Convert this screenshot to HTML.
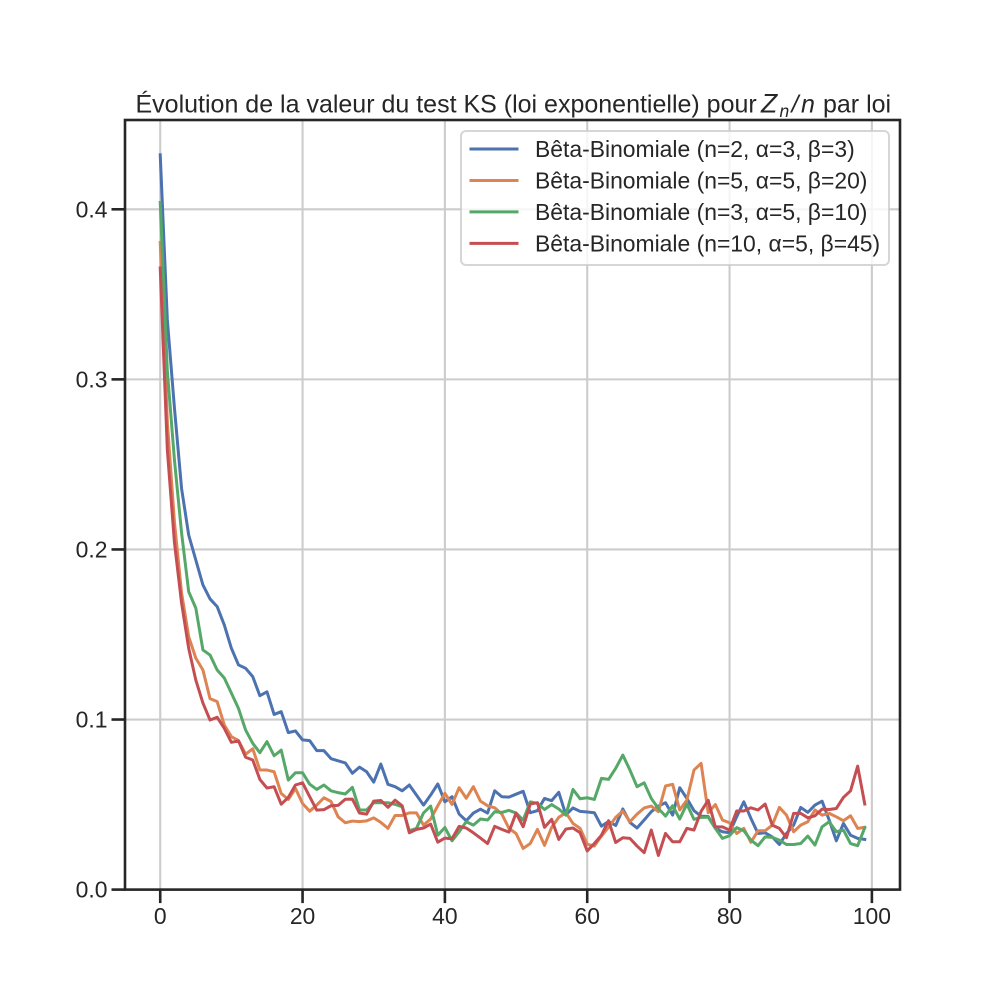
<!DOCTYPE html>
<html lang="fr">
<head>
<meta charset="utf-8">
<title>Évolution de la valeur du test KS</title>
<style>
html,body{margin:0;padding:0;background:#fff;width:1000px;height:1000px;overflow:hidden}
svg{display:block}
text{font-family:"Liberation Sans",Arial,sans-serif;fill:#262626}
</style>
</head>
<body>
<svg id="chart" width="1000" height="1000" viewBox="0 0 1000 1000" xmlns="http://www.w3.org/2000/svg">
  <rect x="0" y="0" width="1000" height="1000" fill="#fff"/>
  <g id="grid"></g>
  <g id="series"></g>
  <g id="frame"></g>
  <g id="xticks"></g>
  <g id="yticks"></g>
  <text x="135.5" y="112.5" font-size="25">Évolution de la valeur du test KS (loi exponentielle) pour <tspan x="761" font-style="italic" font-size="26.5">Z</tspan><tspan x="779.5" y="117" font-style="italic" font-size="17.5">n</tspan><tspan x="791.5" y="112.5" font-style="italic">/</tspan><tspan x="801" font-style="italic">n</tspan><tspan x="823">par loi</tspan></text>
  <g id="legend"></g>
</svg>
<script>
var xTicks = [0, 20, 40, 60, 80, 100];
var yTicks = [0.0, 0.1, 0.2, 0.3, 0.4];
var yTickLabels = ["0.0", "0.1", "0.2", "0.3", "0.4"];
var seriesLabels = [
  "Bêta-Binomiale (n=2, α=3, β=3)",
  "Bêta-Binomiale (n=5, α=5, β=20)",
  "Bêta-Binomiale (n=3, α=5, β=10)",
  "Bêta-Binomiale (n=10, α=5, β=45)"
];
var seriesColors = ["#4c72b0", "#dd8452", "#55a868", "#c44e52"];
var blueValues = [.432,.335,.283,.2358,.2085,.1938,.1791,.1709,.1664,.1556,.1419,.1321,.1301,.1252,.1140,.1163,.1030,.1046,.0923,.0933,.0880,.0876,.0817,.0817,.0770,.0757,.0745,.0684,.072,.0693,.0632,.0738,.0619,.0605,.0581,.0615,.0556,.0497,.0556,.0621,.0516,.0546,.0444,.0405,.045,.0473,.045,.0581,.0546,.0544,.0561,.0578,.0452,.0464,.0536,.0523,.0572,.044,.048,.046,.0456,.0452,.0373,.04,.0377,.0474,.0395,.0362,.0409,.0458,.0491,.0511,.0438,.0599,.0536,.0464,.0432,.043,.036,.034,.0334,.0428,.0516,.0419,.033,.0334,.031,.0265,.033,.0379,.0483,.0454,.0497,.052,.0409,.0287,.0389,.032,.0301,.0295];
var orangeValues = [.3805,.275,.216,.1744,.1487,.1361,.1291,.1123,.1105,.0968,.0899,.0876,.0796,.0828,.0703,.0703,.0693,.0565,.053,.0595,.0506,.0461,.0497,.054,.0518,.0428,.0393,.0403,.04,.0404,.0422,.0395,.036,.0436,.0436,.0451,.0451,.0379,.0415,.0493,.0566,.0501,.0599,.0537,.0605,.052,.0493,.0481,.0444,.036,.033,.0242,.0271,.0354,.026,.0366,.0425,.0452,.0389,.036,.0267,.0256,.0315,.0366,.0425,.0462,.0399,.0444,.048,.0491,.0458,.0609,.0619,.0468,.0526,.0703,.0742,.0452,.05,.0409,.0393,.033,.036,.0278,.0346,.0346,.0379,.0483,.0438,.034,.0379,.0399,.0468,.0438,.0448,.0428,.0405,.0434,.036,.0366];
var greenValues = [.404,.305,.2525,.2097,.1752,.1655,.1409,.1379,.1291,.1244,.1155,.1065,.0938,.086,.0805,.087,.0787,.082,.0644,.0687,.0687,.062,.0589,.0615,.0581,.057,.0562,.0601,.0468,.0468,.0511,.0511,.0511,.0501,.0487,.0346,.036,.0451,.0491,.032,.0365,.0287,.034,.0399,.0379,.0415,.0409,.0458,.0454,.0466,.045,.0409,.0516,.0507,.0471,.05,.0474,.0438,.0589,.0534,.054,.053,.0654,.0648,.0713,.0791,.0703,.0605,.0628,.0536,.0477,.0432,.0493,.0415,.0503,.0413,.0425,.0426,.036,.0301,.0317,.0364,.0346,.0291,.0258,.031,.0307,.0291,.0265,.0265,.0271,.0315,.0262,.0369,.0399,.034,.035,.0271,.0258,.0364];
var redValues = [.3655,.2585,.204,.1685,.1419,.1232,.1097,.0997,.1013,.0948,.0866,.0874,.0778,.0762,.0648,.0597,.0605,.0502,.0542,.0615,.0628,.0546,.0467,.047,.0493,.0495,.0531,.0532,.045,.0444,.052,.0524,.0484,.0526,.0493,.0334,.0354,.0362,.0385,.0279,.0303,.0299,.0372,.0362,.0334,.0303,.0271,.0372,.0354,.0338,.045,.0369,.0503,.0511,.0366,.0413,.0295,.0356,.0362,.0334,.0227,.0271,.032,.0405,.0277,.0305,.0301,.0256,.0217,.035,.0201,.033,.0281,.0281,.036,.035,.046,.0525,.0369,.0369,.035,.0462,.0462,.0481,.0468,.0503,.0379,.036,.0305,.0448,.0448,.0422,.0434,.0473,.0471,.0477,.0542,.0581,.0726,.0503];

var NS = "http://www.w3.org/2000/svg";
var plotLeft = 125, plotRight = 900, plotTop = 120, plotBottom = 889.6;
var xMin = -4.95, xMax = 103.95, yMin = 0, yMax = 0.4525;

function xScale(v) { return plotLeft + (v - xMin) / (xMax - xMin) * (plotRight - plotLeft); }
function yScale(v) { return plotBottom - (v - yMin) / (yMax - yMin) * (plotBottom - plotTop); }
function make(tag, attrs, parent) {
  var el = document.createElementNS(NS, tag);
  for (var k in attrs) { el.setAttribute(k, attrs[k]); }
  parent.appendChild(el);
  return el;
}

var gridG = document.getElementById("grid");
var xG = document.getElementById("xticks");
var yG = document.getElementById("yticks");
var seriesG = document.getElementById("series");
var frameG = document.getElementById("frame");
var legendG = document.getElementById("legend");

xTicks.forEach(function (t) {
  var x = xScale(t);
  var g = make("line", {x1: x, x2: x, y1: plotTop, y2: plotBottom, stroke: "#cccccc", "stroke-width": 2.1}, gridG);
  
  
  var tick = make("line", {x1: x, x2: x, y1: plotBottom, y2: plotBottom + 13.5, stroke: "#262626", "stroke-width": 2.6}, xG);
  
  
  var label = make("text", {x: x, y: 924, "text-anchor": "middle", "font-size": 22.9}, xG);
  label.textContent = String(t);
  
  
});

yTicks.forEach(function (t, i) {
  var y = yScale(t);
  var g = make("line", {x1: plotLeft, x2: plotRight, y1: y, y2: y, stroke: "#cccccc", "stroke-width": 2.1}, gridG);
  
  
  var tick = make("line", {x1: plotLeft, x2: plotLeft - 13.5, y1: y, y2: y, stroke: "#262626", "stroke-width": 2.6}, yG);
  
  
  var label = make("text", {x: 107.5, y: y + 8, "text-anchor": "end", "font-size": 22.9}, yG);
  label.textContent = yTickLabels[i];
  
  
});

var allSeries = [blueValues, orangeValues, greenValues, redValues];
var seriesNames = ["series-n2-a3-b3", "series-n5-a5-b20", "series-n3-a5-b10", "series-n10-a5-b45"];
allSeries.forEach(function (values, s) {
  var d = values.map(function (v, i) {
    return (i ? "L" : "M") + xScale(i).toFixed(2) + " " + yScale(v).toFixed(2);
  }).join("");
  var p = make("path", {d: d, fill: "none", stroke: seriesColors[s], "stroke-width": 3, "stroke-linejoin": "round", "stroke-linecap": "square"}, seriesG);
  
  
});

var frameRect = make("rect", {x: plotLeft, y: plotTop, width: plotRight - plotLeft, height: plotBottom - plotTop, fill: "none", stroke: "#262626", "stroke-width": 2.6}, frameG);



var box = make("rect", {x: 461, y: 131, width: 428, height: 134, rx: 5, ry: 5, fill: "#fff", "fill-opacity": 0.8, stroke: "#cccccc", "stroke-opacity": 0.8, "stroke-width": 2}, legendG);


seriesLabels.forEach(function (lab, i) {
  var y = 149 + i * 31.45;
  var handle = make("line", {x1: 471, x2: 517, y1: y, y2: y, stroke: seriesColors[i], "stroke-width": 3, "stroke-linecap": "square"}, legendG);
  
  
  var text = make("text", {x: 535, y: y + 8, "font-size": 22.9}, legendG);
  text.textContent = lab;
  
  
});
</script>
</body>
</html>
